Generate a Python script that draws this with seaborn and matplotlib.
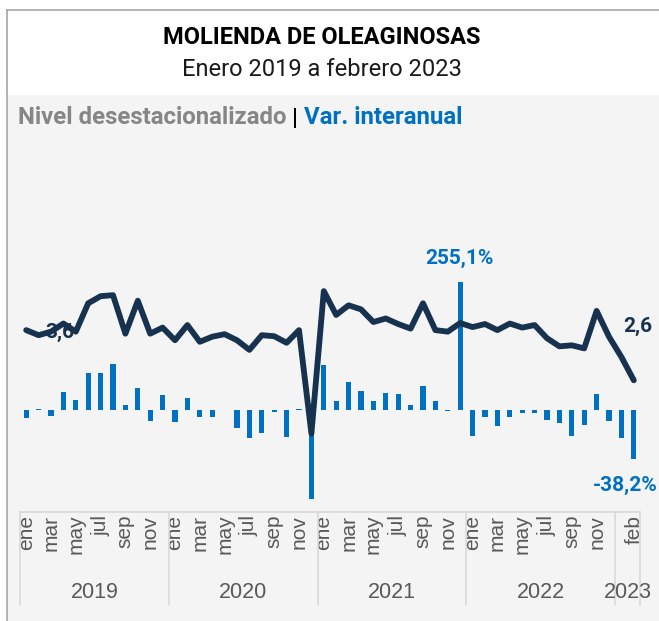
import numpy as np
import pandas as pd
import matplotlib
matplotlib.use("Agg")
import matplotlib.pyplot as plt
from matplotlib.patches import Rectangle
from matplotlib.lines import Line2D
import seaborn as sns

# ---- data ----
years = [2019, 2020, 2021, 2022, 2023]
month_names = ["ene", "feb", "mar", "abr", "may", "jun",
               "jul", "ago", "sep", "oct", "nov", "dic"]

# nivel desestacionalizado (millones de t)
nivel = [3.60, 3.50, 3.57, 3.73, 3.57, 4.13, 4.27, 4.29, 3.53, 4.18, 3.53, 3.65,
         3.40, 3.70, 3.37, 3.47, 3.52, 3.40, 3.21, 3.50, 3.48, 3.35, 3.60, 1.56,
         4.37, 3.90, 4.09, 4.01, 3.76, 3.83, 3.72, 3.63, 4.13, 3.60, 3.57, 3.74,
         3.66, 3.72, 3.60, 3.73, 3.65, 3.70, 3.44, 3.28, 3.30, 3.24, 3.98, 3.47,
         3.07, 2.61]

# variacion interanual (%)
var_ia = [-6.5, 0.5, -5.0, 14.0, 7.6, 28.6, 28.6, 35.6, 3.7, 16.9, -9.0, 11.5,
          -9.9, 8.8, -6.2, -6.2, -0.5, -14.5, -22.6, -18.2, -1.8, -21.6, 0.3, -70.0,
          34.5, 6.8, 21.8, 14.5, 6.5, 13.0, 12.2, 3.7, 18.5, 6.5, -0.8, 255.1,
          -20.5, -6.0, -12.5, -5.5, -2.9, -2.6, -8.0, -10.7, -20.8, -12.0, 12.2, -8.6,
          -22.0, -38.2]

n_months = len(nivel)
mes = [month_names[i % 12] for i in range(n_months)]

df = pd.DataFrame({"pos": np.arange(n_months), "mes": mes,
                   "nivel": nivel, "var": var_ia})

NAVY = "#17324f"
BLUE = "#0070c0"
GREY_BG = "#f4f4f4"
GRID = "#d9d9d9"

W, H = 659, 621
fig = plt.figure(figsize=(W / 100, H / 100), dpi=100)
fig.patch.set_facecolor("white")


def fx(px):
    return px / W


def fy(py):
    return 1 - py / H


# panel background + frame
fig.patches.append(Rectangle((fx(7), 0), 1, fy(95), transform=fig.transFigure,
                             facecolor=GREY_BG, edgecolor="none", zorder=-2))
fig.lines.append(Line2D([fx(7), fx(7)], [0, fy(10)], transform=fig.transFigure,
                        color="#a6a6a6", lw=1.2, zorder=-1))
fig.lines.append(Line2D([fx(7), 1], [fy(10), fy(10)], transform=fig.transFigure,
                        color="#a6a6a6", lw=1.2, zorder=-1))

# titles
fig.text(fx(322), fy(37), "MOLIENDA DE OLEAGINOSAS", ha="center", va="center",
         fontsize=17, fontweight="bold", family="Roboto", color="black")
fig.text(fx(322), fy(70), "Enero 2019 a febrero 2023", ha="center", va="center",
         fontsize=17, family="Roboto", color="#1a1a1a")

# legend-like subtitle made of coloured pieces
pieces = [("Nivel desestacionalizado", "#868686"),
          (" | ", "black"),
          ("Var. interanual", BLUE)]
fig.canvas.draw()
renderer = fig.canvas.get_renderer()
x_cur = 18
for txt, col in pieces:
    t = fig.text(fx(x_cur), fy(118), txt, ha="left", va="center", fontsize=17.3,
                 fontweight="bold", family="Roboto", color=col)
    bb = t.get_window_extent(renderer=renderer)
    x_cur += bb.width

# ---- axes ----
ax_l, ax_r = 20, 640
ax_top, ax_bot = 282, 512
rect = [fx(ax_l), fy(ax_bot), fx(ax_r - ax_l), (ax_bot - ax_top) / H]
ax = fig.add_axes(rect, zorder=1)
ax_line = fig.add_axes(rect, sharex=ax, zorder=2)
for a in (ax, ax_line):
    a.set_facecolor("none")
    for s in a.spines.values():
        s.set_visible(False)

sns.barplot(data=df, x="pos", y="var", color=BLUE, saturation=1, width=0.42,
            ax=ax, native_scale=True)
ax.set_xlim(-0.5, n_months - 0.5)
ax.set_ylim(-79.9, 99.4)
ax.set_yticks([])
ax.set_ylabel("")
ax.set_xlabel("")
ax.spines["bottom"].set_visible(True)
ax.spines["bottom"].set_color(GRID)
ax.spines["bottom"].set_linewidth(1.2)

tick_pos = list(range(0, n_months - 2, 2)) + [n_months - 1]
ax.set_xticks(tick_pos)
ax.set_xticklabels([df["mes"][i] for i in tick_pos], rotation=90,
                   fontsize=15, family="Liberation Sans", color="#595959")
ax.tick_params(axis="x", length=0, pad=2)

# year separators and labels
trans = ax.get_xaxis_transform()
sep_depth = 93 / (ax_bot - ax_top)
for xs in [-0.5, 11.5, 23.5, 35.5, 47.5, n_months - 0.5]:
    ax.plot([xs, xs], [0, -sep_depth], transform=trans, color=GRID, lw=1.2,
            clip_on=False)
for i, yr in enumerate(years):
    start = i * 12
    end = min(start + 12, n_months)
    ax.annotate(str(yr), xy=((start + end - 1) / 2, 0), xycoords=trans,
                xytext=(0, -80), textcoords="offset pixels", ha="center",
                va="center", fontsize=15.5, family="Liberation Sans",
                color="#595959", annotation_clip=False)

# level line
sns.lineplot(data=df, x="pos", y="nivel", color=NAVY, lw=4.2, ax=ax_line,
             solid_joinstyle="round", solid_capstyle="round", zorder=3)
ax_line.set_ylim(0.01, 4.55)
ax_line.set_yticks([])
ax_line.set_ylabel("")
ax_line.set_xlabel("")
ax_line.tick_params(axis="x", length=0, labelbottom=False)
for ln in ax_line.lines:
    ln.set_clip_on(False)

# annotations
ax_line.annotate("3,6", xy=(0, nivel[0]), xytext=(34, -2),
                 textcoords="offset pixels", ha="center", va="center",
                 fontsize=15, fontweight="bold", family="Roboto", color=NAVY,
                 zorder=1)
ax_line.annotate("2,6", xy=(n_months - 1, nivel[-1]), xytext=(4, 54),
                 textcoords="offset pixels", ha="center", va="center",
                 fontsize=15, fontweight="bold", family="Roboto", color=NAVY)
i_max = int(np.argmax(var_ia))
ax.annotate(f"{var_ia[i_max]:.1f}%".replace(".", ","), xy=(i_max, 1),
            xycoords=trans, xytext=(-1, 24), textcoords="offset pixels",
            ha="center", va="center", fontsize=15, fontweight="bold",
            family="Roboto", color=BLUE, annotation_clip=False)
ax.annotate(f"{var_ia[-1]:.1f}%".replace(".", ","), xy=(n_months - 1, var_ia[-1]),
            xytext=(-9, -27), textcoords="offset pixels", ha="center",
            va="center", fontsize=15, fontweight="bold", family="Roboto",
            color=BLUE, annotation_clip=False)

fig.savefig("out.png", dpi=100, facecolor=fig.get_facecolor())
